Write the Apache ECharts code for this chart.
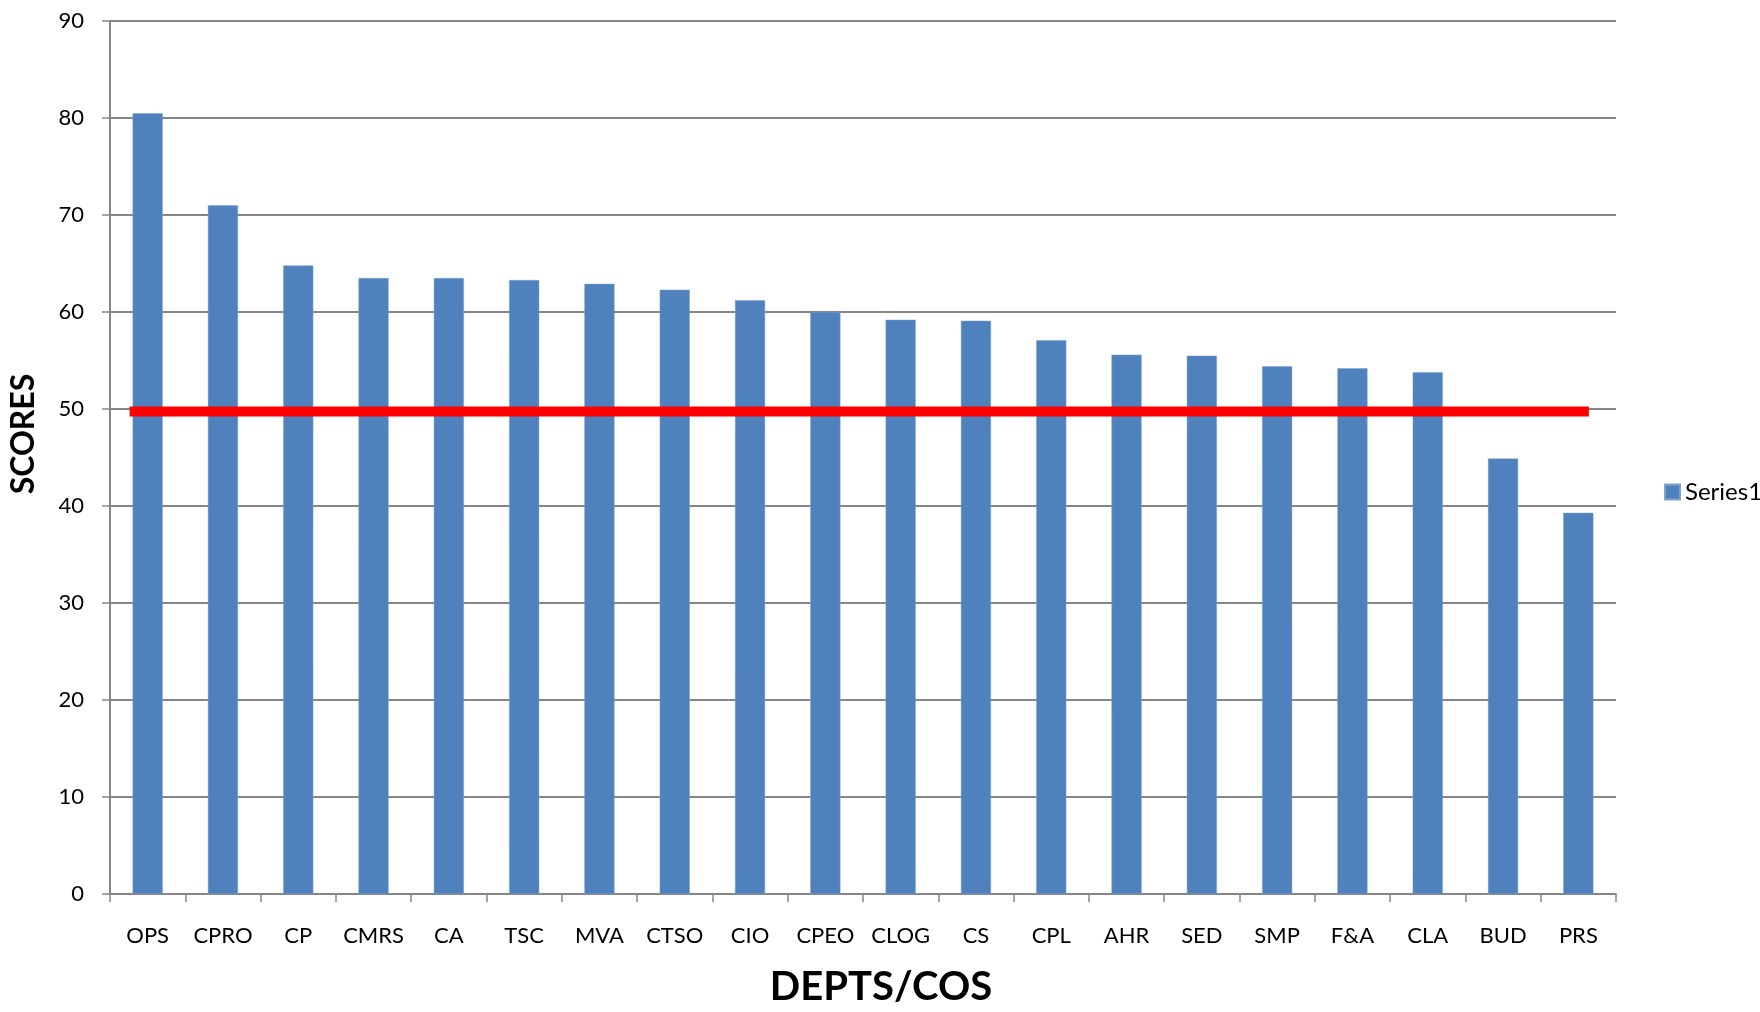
<!DOCTYPE html>
<html>
<head>
<meta charset="utf-8">
<script src="https://cdn.jsdelivr.net/npm/echarts@6/dist/echarts.min.js"></script>
<style>html,body{margin:0;padding:0;background:#fff;}#chart{width:1760px;height:1012px;}</style>
</head>
<body>
<div id="chart"></div>
<script>
const categories = ['OPS','CPRO','CP','CMRS','CA','TSC','MVA','CTSO','CIO','CPEO','CLOG','CS','CPL','AHR','SED','SMP','F&A','CLA','BUD','PRS'];
const series1 = [80.5, 71.0, 64.8, 63.5, 63.5, 63.3, 62.9, 62.3, 61.2, 60.0, 59.2, 59.1, 57.1, 55.6, 55.5, 54.4, 54.2, 53.8, 44.9, 39.3];
const yTicks = [0, 10, 20, 30, 40, 50, 60, 70, 80, 90];
const thresholdValue = 49.75;
const thresholdSpan = [0.26, 19.64];

const font = 'Lato, "Open Sans", sans-serif';
const chart = echarts.init(document.getElementById('chart'));
chart.setOption({
  animation: false,
  textStyle: { fontFamily: font },
  grid: { left: 106, right: 144, top: 21, bottom: 116, containLabel: false },
  legend: {
    data: ['Series1'], orient: 'vertical', left: 1659, top: 475,
    icon: 'rect', itemWidth: 15, itemHeight: 15, itemGap: 6,
    textStyle: { fontSize: 24, lineHeight: 24, color: '#000', fontFamily: font }
  },
  xAxis: [{
    type: 'category', data: categories,
    axisLine: { lineStyle: { color: '#868686', width: 2 } },
    axisTick: { show: true, length: 8, lineStyle: { color: '#868686', width: 1.5 } },
    axisLabel: { fontSize: 22, color: '#000', margin: 31, interval: 0, fontFamily: font },
    name: 'DEPTS/COS', nameLocation: 'middle', nameGap: 73,
    nameTextStyle: { fontSize: 40, fontWeight: 'bold', color: '#000', fontFamily: font, padding: [0, 0, 0, 36] }
  }, {
    type: 'value', min: 0, max: categories.length, show: false
  }],
  yAxis: {
    type: 'value', min: yTicks[0], max: yTicks[yTicks.length - 1], interval: 10,
    axisLine: { show: true, lineStyle: { color: '#868686', width: 2 } },
    axisTick: { show: true, length: 8, lineStyle: { color: '#868686', width: 1.5 } },
    axisLabel: { fontSize: 22, color: '#000', margin: 26, fontFamily: font },
    splitLine: { lineStyle: { color: '#868686', width: 2 } },
    name: 'SCORES', nameLocation: 'middle', nameGap: 70, nameRotate: 90,
    nameTextStyle: { fontSize: 32, fontWeight: 'bold', color: '#000', fontFamily: font, padding: [0, 0, 0, 47] }
  },
  series: [{
    name: 'Series1', type: 'bar', data: series1, barWidth: '40%',
    itemStyle: { color: '#4F81BD', borderColor: '#7FA3CF', borderWidth: 0.5 }
  }, {
    name: 'threshold', type: 'line', xAxisIndex: 1, symbol: 'none',
    data: thresholdSpan.map(x => [x, thresholdValue]),
    lineStyle: { color: '#FF0000', width: 10, cap: 'butt' }, z: 5
  }]
});
</script>
</body>
</html>
